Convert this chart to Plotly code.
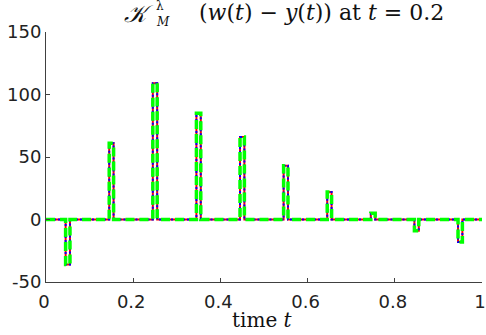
import plotly.graph_objects as go

pulse_centers = [0.05, 0.15, 0.25, 0.35, 0.45, 0.55, 0.65, 0.75, 0.85, 0.95]
pulse_values = [-36, 61, 109, 85, 66, 43, 22, 5, -9, -18]
pulse_width = 0.01
x_ticks = [0, 0.2, 0.4, 0.6, 0.8, 1]
x_ticklabels = ["0", "0.2", "0.4", "0.6", "0.8", "1"]
y_ticks = [-50, 0, 50, 100, 150]
y_ticklabels = ["-50", "0", "50", "100", "150"]

t = [0.0]
v = [0.0]
for c, h in zip(pulse_centers, pulse_values):
    a, b = c - pulse_width / 2, c + pulse_width / 2
    t += [a, a, b, b]
    v += [0, h, h, 0]
t.append(1.0)
v.append(0.0)

fig = go.Figure()
fig.add_trace(go.Scatter(x=t, y=v, mode="lines", line=dict(color="#ff0000", width=2), showlegend=False))
fig.add_trace(go.Scatter(x=t, y=v, mode="lines", line=dict(color="#0000ff", width=2, dash="2px,2px"), showlegend=False))
fig.add_trace(go.Scatter(x=t, y=v, mode="lines", line=dict(color="#00ff00", width=3.5, dash="9px,5px"), showlegend=False))

axis_common = dict(
    showgrid=False, zeroline=False, showline=True, linecolor="#404040", linewidth=1,
    ticks="inside", ticklen=4, tickcolor="#404040", mirror=False, automargin=False,
    ticklabeloverflow="allow",
    tickfont=dict(family="DejaVu Sans", size=18, color="#222222"),
)
fig.update_xaxes(range=[0, 1], tickvals=x_ticks, ticktext=x_ticklabels, ticklabelstandoff=3,
                 ticklabelshift=-2, **axis_common)
fig.update_yaxes(range=[-50, 150], tickvals=y_ticks, ticktext=y_ticklabels, **axis_common)

L, T, W, H = 46, 32, 436, 250

def px(xp):
    return (xp - L) / W

def py(yp):
    return (T + H - yp) / H

tf = dict(family="DejaVu Serif", color="#111111")
fig.update_layout(
    width=486, height=335,
    margin=dict(l=L, r=486 - L - W, t=T, b=335 - T - H),
    plot_bgcolor="white", paper_bgcolor="white",
    annotations=[
        dict(text="<i>𝒦</i>", x=px(155), y=py(14), xref="paper", yref="paper", borderpad=0,
             xanchor="right", yanchor="middle", showarrow=False, font=dict(size=24, **tf)),
        dict(text="λ", x=px(155), y=py(6), xref="paper", yref="paper", borderpad=0,
             xanchor="left", yanchor="middle", showarrow=False, font=dict(size=12, **tf)),
        dict(text="<i>M</i>", x=px(155), y=py(22), xref="paper", yref="paper", borderpad=0,
             xanchor="left", yanchor="middle", showarrow=False, font=dict(size=12, **tf)),
        dict(text="(<i>w</i>(<i>t</i>) − <i>y</i>(<i>t</i>)) at <i>t</i> = 0.2", x=px(446), y=py(13),
             xref="paper", yref="paper", xanchor="right", yanchor="middle", showarrow=False,
             font=dict(size=22, **tf)),
        dict(text="time <i>t</i>", x=px(262), y=py(320), xref="paper", yref="paper",
             xanchor="center", yanchor="middle", showarrow=False, font=dict(size=20, **tf)),
    ],
)
fig.write_html("out.html", config={"displayModeBar": False},
               post_script="document.body.style.margin='0';")
